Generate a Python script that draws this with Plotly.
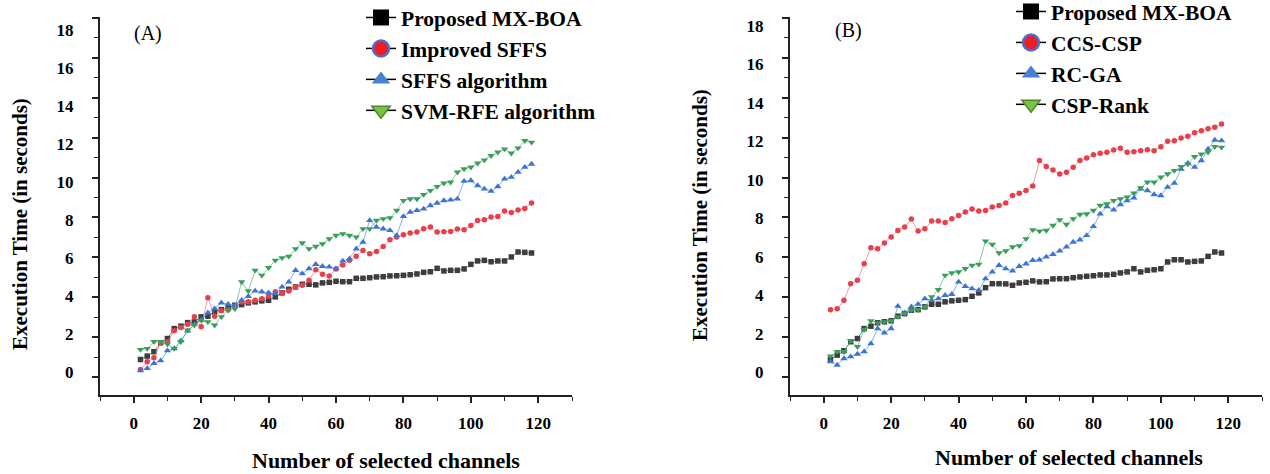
import plotly.graph_objects as go

channels = list(range(2, 120, 2))

# Panel (A)
a_mxboa = [0.88, 1.05, 1.27, 1.72, 1.93, 2.43, 2.55, 2.73, 2.77, 3.02,
           3.05, 3.27, 3.38, 3.47, 3.6, 3.63, 3.72, 3.77, 3.82, 3.85,
           4.02, 4.22, 4.4, 4.52, 4.65, 4.65, 4.62, 4.72, 4.75, 4.8,
           4.78, 4.78, 4.95, 4.95, 4.98, 5.02, 5.03, 5.07, 5.08, 5.1,
           5.13, 5.17, 5.25, 5.28, 5.45, 5.32, 5.35, 5.35, 5.42, 5.65,
           5.82, 5.85, 5.78, 5.82, 5.82, 6.02, 6.27, 6.25, 6.22]
a_isffs = [0.38, 0.77, 0.97, 1.72, 1.77, 2.32, 2.48, 2.65, 3.02, 2.52,
           3.98, 3.05, 3.32, 3.38, 3.52, 3.77, 3.77, 3.85, 3.93, 4.05,
           4.27, 4.22, 4.32, 4.52, 4.6, 4.85, 5.38, 5.15, 5.07, 5.42,
           5.62, 5.85, 6.05, 6.35, 6.18, 6.3, 6.55, 6.88, 7.02, 7.13,
           7.22, 7.27, 7.43, 7.52, 7.27, 7.28, 7.3, 7.42, 7.38, 7.6,
           7.85, 7.88, 8.02, 8.05, 8.32, 8.25, 8.38, 8.45, 8.72]
a_sffs = [0.32, 0.43, 0.68, 0.82, 1.32, 1.43, 1.82, 2.32, 2.65, 2.85,
          3.22, 3.43, 3.72, 3.65, 3.6, 3.85, 4.05, 4.32, 4.27, 4.22,
          4.18, 4.52, 4.77, 5.35, 5.18, 5.43, 5.65, 5.55, 5.52, 5.43,
          5.82, 5.93, 6.43, 6.77, 7.85, 7.52, 7.43, 7.35, 7.1, 8.05,
          8.27, 8.35, 8.43, 8.6, 8.72, 8.85, 8.88, 8.93, 9.82, 9.85,
          9.6, 9.43, 9.32, 9.55, 9.93, 10.02, 10.27, 10.52, 10.68]
a_svmrfe = [1.38, 1.43, 1.77, 1.77, 1.65, 1.43, 1.77, 2.35, 2.6, 2.85,
            2.77, 2.6, 3.02, 3.35, 3.43, 4.77, 4.32, 5.35, 5.1, 5.48,
            5.85, 5.98, 6.05, 6.43, 6.72, 6.43, 6.55, 6.68, 6.93, 7.1,
            7.18, 7.1, 7.02, 7.43, 7.43, 7.85, 7.93, 7.98, 8.35, 8.85,
            8.93, 8.93, 9.15, 9.35, 9.55, 9.72, 9.77, 10.27, 10.43, 10.52,
            10.72, 10.88, 11.1, 11.27, 11.43, 11.22, 11.48, 11.85, 11.77]

# Panel (B)
b_mxboa = [0.88, 1.1, 1.32, 1.77, 1.93, 2.43, 2.55, 2.72, 2.77, 2.82,
           3.05, 3.18, 3.35, 3.38, 3.52, 3.65, 3.65, 3.77, 3.82, 3.85,
           3.88, 4.05, 4.22, 4.48, 4.68, 4.68, 4.67, 4.6, 4.72, 4.75,
           4.82, 4.77, 4.78, 4.92, 4.93, 4.93, 4.98, 5.02, 5.05, 5.08,
           5.12, 5.12, 5.15, 5.22, 5.27, 5.43, 5.27, 5.35, 5.38, 5.43,
           5.77, 5.88, 5.88, 5.77, 5.8, 5.82, 6.05, 6.27, 6.22]
b_ccscsp = [3.38, 3.43, 3.85, 4.68, 4.85, 5.68, 6.48, 6.43, 6.72, 7.02,
            7.35, 7.52, 7.92, 7.32, 7.43, 7.82, 7.82, 7.75, 7.93, 8.1,
            8.27, 8.42, 8.32, 8.35, 8.52, 8.6, 8.72, 9.1, 9.22, 9.35,
            9.58, 10.85, 10.55, 10.38, 10.18, 10.27, 10.52, 10.85, 10.98, 11.15,
            11.22, 11.27, 11.38, 11.47, 11.27, 11.3, 11.35, 11.4, 11.35, 11.55,
            11.82, 11.85, 11.98, 12.07, 12.25, 12.35, 12.45, 12.52, 12.68]
b_rcga = [0.77, 0.6, 0.93, 1.02, 1.15, 1.27, 1.68, 2.43, 2.22, 2.43,
          3.55, 3.22, 3.52, 3.65, 3.93, 3.85, 3.93, 4.1, 4.15, 4.77,
          4.55, 4.43, 4.35, 4.93, 5.27, 5.6, 5.43, 5.32, 5.55, 5.68,
          5.85, 5.88, 6.02, 6.15, 6.32, 6.52, 6.77, 6.88, 7.1, 7.55,
          8.18, 8.55, 8.38, 8.65, 8.85, 8.98, 9.43, 9.35, 9.15, 9.1,
          9.52, 9.72, 10.43, 10.72, 10.52, 10.85, 11.43, 11.88, 11.85]
b_csprank = [1.05, 1.27, 1.27, 1.82, 1.52, 2.38, 2.82, 2.72, 2.77, 2.82,
             3.02, 3.18, 3.35, 3.38, 3.52, 4.02, 4.38, 5.1, 5.22, 5.27,
             5.43, 5.6, 5.65, 6.82, 6.65, 6.22, 6.32, 6.52, 6.58, 6.93,
             7.38, 7.32, 7.35, 7.6, 7.88, 7.65, 7.93, 8.15, 8.18, 8.35,
             8.6, 8.68, 8.85, 8.93, 9.02, 9.22, 9.48, 9.77, 9.77, 10.02,
             10.18, 10.35, 10.55, 10.68, 11.05, 11.18, 11.27, 11.55, 11.52]

names_a = ["Proposed MX-BOA", "Improved SFFS", "SFFS algorithm", "SVM-RFE algorithm"]
names_b = ["Proposed MX-BOA", "CCS-CSP", "RC-GA", "CSP-Rank"]
x_ticks = [0, 20, 40, 60, 80, 100, 120]
y_ticks = [0, 2, 4, 6, 8, 10, 12, 14, 16, 18]

SERIF = "Liberation Serif"
W, H = 1270, 474

# series styles: (symbol, marker color, line color, legend fill, legend outline, outline width)
styles = [
    ("square", "#3d3d3d", "rgba(90,90,90,0.75)", "#000000", "#000000", 0),
    ("circle", "#e5404c", "rgba(238,120,128,0.75)", "#ee1c25", "#4a6fd0", 2.5),
    ("triangle-up", "#3b74d4", "rgba(95,145,220,0.75)", "#4a7fd4", "#4a7fd4", 0),
    ("triangle-down", "#3a9e5a", "rgba(95,185,125,0.75)", "#7cc242", "#4a8a2a", 1.5),
]

fig = go.Figure()

def add_panel(series, names, xa, ya, legend):
    for s, st in zip(series, styles):
        sym, mc, lc, lf, lo, lw = st
        fig.add_trace(go.Scatter(
            x=channels, y=s, mode="lines+markers", xaxis=xa, yaxis=ya,
            showlegend=False,
            line=dict(color=lc, width=1),
            marker=dict(symbol=sym, color=mc, size=5.5 if sym in ("square", "circle") else 6.5),
        ))
    for i, (nm, st) in enumerate(zip(names, styles)):
        sym, mc, lc, lf, lo, lw = st
        fig.add_trace(go.Scatter(
            x=[None], y=[None], mode="lines+markers", xaxis=xa, yaxis=ya,
            name=nm, legend=legend, legendgroup=legend + str(i),
            line=dict(color="black", width=1.5),
            marker=dict(symbol=sym, color=lf, size=16, line=dict(color=lo, width=lw)),
        ))

add_panel([a_mxboa, a_isffs, a_sffs, a_svmrfe], names_a, "x", "y", "legend")
add_panel([b_mxboa, b_ccscsp, b_rcga, b_csprank], names_b, "x2", "y2", "legend2")

ybot, ytop = (H - 395) / H, (H - 17) / H
tickfont = dict(family=SERIF, size=17, color="black", weight="bold")

def xaxis(dom, anchor):
    return dict(domain=dom, anchor=anchor, range=[-10, 130], tickvals=x_ticks,
                showline=True, linecolor="#222", linewidth=1.5, ticks="outside",
                ticklen=6, tickwidth=1.5, tickcolor="#222", showgrid=False, zeroline=False,
                tickfont=tickfont, ticklabelstandoff=6, automargin=False,
                minor=dict(dtick=10, tick0=-10, ticks="outside", ticklen=4, tickcolor="#222", tickwidth=1.2))

def yaxis(anchor):
    return dict(domain=[ybot, ytop], anchor=anchor, range=[-0.9, 18.05], tickvals=y_ticks,
                showline=True, linecolor="#222", linewidth=1.5, ticks="outside",
                ticklen=6, tickwidth=1.5, tickcolor="#222", showgrid=False, zeroline=False,
                showticklabels=False, automargin=False,
                minor=dict(dtick=1, tick0=0, ticks="outside", ticklen=4, tickcolor="#222", tickwidth=1.2))

def ylabels(anchor, over, rng):
    # label-only axis: the printed labels sit slightly off the tick marks in the original
    return dict(domain=[ybot, ytop], anchor=anchor, overlaying=over, side="left", range=rng,
                tickvals=y_ticks, showline=False, ticks="outside", ticklen=6,
                tickcolor="rgba(0,0,0,0)", showgrid=False, zeroline=False,
                tickfont=tickfont, ticklabelstandoff=16, automargin=False)

legfont = dict(family=SERIF, size=21.5, color="black", weight="bold")

fig.update_layout(
    width=W, height=H, margin=dict(l=0, r=0, t=0, b=0, autoexpand=False),
    plot_bgcolor="white", paper_bgcolor="white",
    xaxis=xaxis([100 / W, 572 / W], "y"),
    yaxis=yaxis("x"),
    xaxis2=xaxis([790 / W, 1262 / W], "y2"),
    yaxis2=yaxis("x2"),
    yaxis3=ylabels("x", "y", [-1.2105, 18.684]),
    yaxis4=ylabels("x2", "y2", [-1.1966, 18.468]),
    legend=dict(x=(403 - 42) / W, y=1 + 3 / H, xanchor="left", yanchor="top",
                font=legfont, bgcolor="rgba(0,0,0,0)", tracegroupgap=0,
                traceorder="grouped"),
    legend2=dict(x=(1053 - 42) / W, y=1 + 9 / H, xanchor="left", yanchor="top",
                 font=legfont, bgcolor="rgba(0,0,0,0)", tracegroupgap=0,
                 traceorder="grouped"),
    showlegend=True,
)

annots = [
    dict(text="(A)", x=148 / W, y=1 - 33 / H, font=dict(family=SERIF, size=20, color="black")),
    dict(text="(B)", x=848 / W, y=1 - 30 / H, font=dict(family=SERIF, size=20, color="black")),
    dict(text="Number of selected channels", x=386 / W, y=1 - 460 / H,
         font=dict(family=SERIF, size=22, color="black", weight="bold")),
    dict(text="Number of selected channels", x=1069 / W, y=1 - 457 / H,
         font=dict(family=SERIF, size=22, color="black", weight="bold")),
    dict(text="Execution Time (in seconds)", x=20 / W, y=1 - 224 / H, textangle=-90,
         font=dict(family=SERIF, size=21, color="black", weight="bold")),
    dict(text="Execution Time (in seconds)", x=700 / W, y=1 - 215 / H, textangle=-90,
         font=dict(family=SERIF, size=21, color="black", weight="bold")),
]
for a in annots:
    fig.add_annotation(xref="paper", yref="paper", showarrow=False,
                       xanchor="center", yanchor="middle", **a)

# invisible anchor traces so the label-only axes are drawn
fig.add_trace(go.Scatter(x=[None], y=[None], xaxis="x", yaxis="y3", showlegend=False, hoverinfo="skip"))
fig.add_trace(go.Scatter(x=[None], y=[None], xaxis="x2", yaxis="y4", showlegend=False, hoverinfo="skip"))

fig.write_html("out.html")
